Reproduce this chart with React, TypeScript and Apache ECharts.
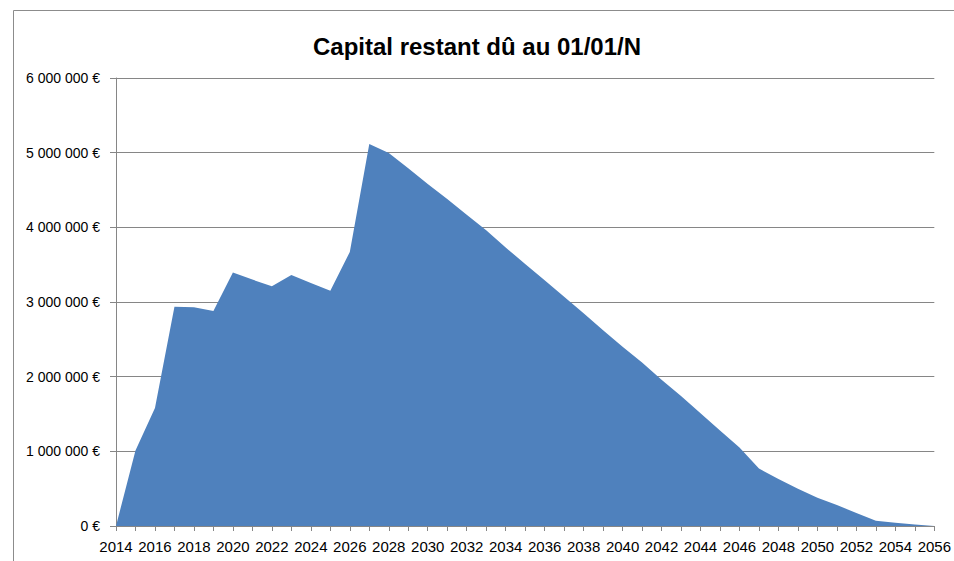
import React, { useEffect, useRef } from "react";
import * as echarts from "echarts";

const years: string[] = [
  "2014", "2015", "2016", "2017", "2018", "2019", "2020", "2021", "2022", "2023",
  "2024", "2025", "2026", "2027", "2028", "2029", "2030", "2031", "2032", "2033",
  "2034", "2035", "2036", "2037", "2038", "2039", "2040", "2041", "2042", "2043",
  "2044", "2045", "2046", "2047", "2048", "2049", "2050", "2051", "2052", "2053",
  "2054", "2055", "2056",
];

const capital: number[] = [
  0, 1010000, 1580000, 2935000, 2930000, 2880000, 3395000, 3300000, 3210000, 3360000,
  3255000, 3150000, 3670000, 5115000, 4995000, 4790000, 4580000, 4380000, 4170000, 3960000,
  3730000, 3510000, 3290000, 3070000, 2850000, 2620000, 2400000, 2190000, 1960000, 1740000,
  1510000, 1280000, 1050000, 770000, 630000, 500000, 380000, 280000, 175000, 70000,
  42000, 20000, 0,
];

const yTicks: number[] = [0, 1000000, 2000000, 3000000, 4000000, 5000000, 6000000];

const titleText = "Capital restant dû au 01/01/N";

function fmtEuro(v: number): string {
  if (v === 0) return "0 €";
  const s = Math.round(v).toString();
  return s.replace(/\B(?=(\d{3})+(?!\d))/g, " ") + " €";
}

export default function App() {
  const ref = useRef<HTMLDivElement>(null);
  useEffect(() => {
    if (!ref.current) return;
    const chart = echarts.init(ref.current, null, { renderer: "svg" });
    const font = "'Liberation Sans', sans-serif";
    chart.setOption({
      animation: false,
      backgroundColor: "#ffffff",
      title: {
        text: titleText,
        left: "center",
        top: 29,
        textStyle: { fontFamily: font, fontSize: 24, fontWeight: "bold", color: "#000" },
      },
      graphic: [
        {
          type: "rect",
          shape: { x: 13.5, y: 10.5, width: 1000, height: 1000 },
          style: { fill: "none", stroke: "#8c8c8c", lineWidth: 1 },
          silent: true,
        },
      ],
      grid: { left: 116, right: 16, top: 78, bottom: 35, containLabel: false },
      xAxis: {
        type: "category",
        data: years,
        boundaryGap: false,
        axisLine: { show: true, lineStyle: { color: "#868686", width: 1 } },
        axisTick: { show: true, interval: 0, length: 5, lineStyle: { color: "#868686" } },
        axisLabel: {
          interval: 1,
          margin: 13,
          fontFamily: font,
          fontSize: 15,
          color: "#000",
        },
        splitLine: { show: false },
      },
      yAxis: {
        type: "value",
        min: 0,
        max: 6000000,
        interval: 1000000,
        axisLine: { show: true, lineStyle: { color: "#868686", width: 1 } },
        axisTick: { show: true, length: 6, lineStyle: { color: "#868686" } },
        axisLabel: {
          margin: 16,
          fontFamily: font,
          fontSize: 14,
          color: "#000",
          formatter: (v: number) => (yTicks.includes(v) ? fmtEuro(v) : ""),
        },
        splitLine: { show: true, lineStyle: { color: "#868686", width: 1 } },
      },
      series: [
        {
          type: "line",
          data: capital,
          symbol: "none",
          lineStyle: { width: 0 },
          areaStyle: { color: "#4f81bd", opacity: 1 },
          itemStyle: { color: "#4f81bd" },
        },
      ],
    });
    return () => chart.dispose();
  }, []);
  return (
    <div
      ref={ref}
      style={{ position: "fixed", left: 0, top: 0, width: 954, height: 561 }}
    />
  );
}
